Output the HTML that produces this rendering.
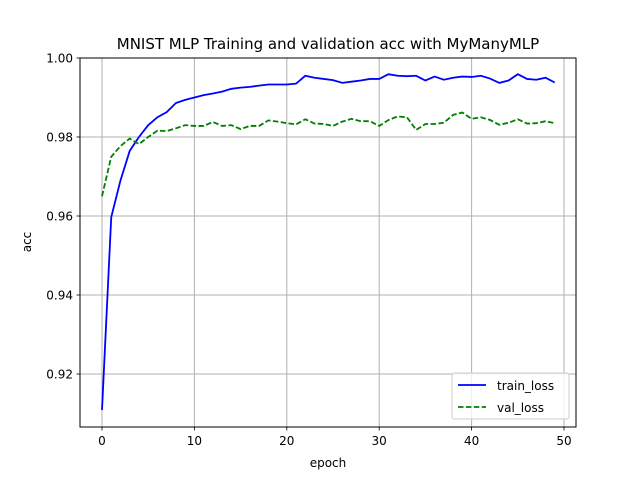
<!DOCTYPE html>
<html><head><meta charset="utf-8"><style>body{margin:0;background:#fff}svg{display:block;font-family:"DejaVu Sans","Liberation Sans",sans-serif}</style></head>
<body>
<svg id="chart" width="640" height="480">
<rect width="640" height="480" fill="#fff"/>
<g id="grid"></g>
<g id="lines"></g>
<rect x="80" y="58" width="496" height="369" fill="none" stroke="#000" stroke-width="1"/>
<g id="ticks"></g>
<text x="328" y="49" font-size="15" text-anchor="middle">MNIST MLP Training and validation acc with MyManyMLP</text>
<text x="328" y="467" font-size="12" text-anchor="middle">epoch</text>
<text x="31" y="242" font-size="12" text-anchor="middle" transform="rotate(-90 31 242)">acc</text>
<g>
<rect x="452" y="373" width="117" height="46" fill="#fff" fill-opacity="0.8" stroke="#ccc" rx="2"/>
<line x1="458" y1="385" x2="486" y2="385" stroke="#0000ff" stroke-width="1.8"/>
<text x="497" y="390" font-size="12">train_loss</text>
<line x1="458" y1="407" x2="486" y2="407" stroke="#008000" stroke-width="1.8" stroke-dasharray="5.5,2.4"/>
<text x="497" y="412" font-size="12">val_loss</text>
</g>
</svg>
<script>
const xTicks=[0,10,20,30,40,50];
const yTicks=[0.92,0.94,0.96,0.98,1.00];
const yTickLabels=["0.92","0.94","0.96","0.98","1.00"];
const trainAcc=[0.9109,0.9597,0.969,0.9765,0.980,0.983,0.985,0.9863,0.9886,0.9894,0.990,0.9906,0.991,0.9915,0.9922,0.9925,0.9927,0.993,0.9933,0.9933,0.9933,0.9935,0.9955,0.995,0.9947,0.9944,0.9937,0.994,0.9943,0.9947,0.9947,0.9959,0.9955,0.9954,0.9955,0.9943,0.9953,0.9945,0.995,0.9953,0.9952,0.9955,0.9948,0.9937,0.9943,0.9959,0.9947,0.9945,0.995,0.9938];
const valAcc=[0.965,0.975,0.9777,0.9796,0.9782,0.980,0.9816,0.9815,0.9822,0.983,0.9828,0.9828,0.9838,0.9828,0.983,0.982,0.9828,0.9828,0.9842,0.9839,0.9835,0.9832,0.9845,0.9834,0.9833,0.9828,0.9839,0.9846,0.984,0.984,0.9828,0.9843,0.9852,0.985,0.9818,0.9833,0.9833,0.9836,0.9856,0.9862,0.9846,0.985,0.9843,0.9831,0.9836,0.9845,0.9834,0.9835,0.984,0.9835];
const NS="http://www.w3.org/2000/svg";
const X=v=>102+v*9.24, Y=v=>58+(1-v)*3950;
function mk(t,a,p){const e=document.createElementNS(NS,t);for(const k in a)e.setAttribute(k,a[k]);p.appendChild(e);return e;}
const g=document.getElementById('grid'),tk=document.getElementById('ticks'),ln=document.getElementById('lines');
xTicks.forEach(v=>{const x=X(v);
const l=mk('line',{x1:x,x2:x,y1:58,y2:427,stroke:'#b0b0b0','stroke-width':1},g);

mk('line',{x1:x,x2:x,y1:427,y2:430.5,stroke:'#000','stroke-width':0.8},tk);
const t=mk('text',{x:x,y:445,'font-size':12,'text-anchor':'middle'},tk);t.textContent=v;
});
yTicks.forEach((v,i)=>{const y=Y(v);
const l=mk('line',{x1:80,x2:576,y1:y,y2:y,stroke:'#b0b0b0','stroke-width':1},g);

mk('line',{x1:76.5,x2:80,y1:y,y2:y,stroke:'#000','stroke-width':0.8},tk);
const t=mk('text',{x:73,y:y+4.5,'font-size':12,'text-anchor':'end'},tk);t.textContent=yTickLabels[i];
});
function pts(a){return a.map((v,i)=>X(i)+','+Y(v)).join(' ');}
const p1=mk('polyline',{points:pts(trainAcc),fill:'none',stroke:'#0000ff','stroke-width':1.8},ln);

const p2=mk('polyline',{points:pts(valAcc),fill:'none',stroke:'#008000','stroke-width':1.8,'stroke-dasharray':'5.5,2.4'},ln);

</script>
</body></html>
